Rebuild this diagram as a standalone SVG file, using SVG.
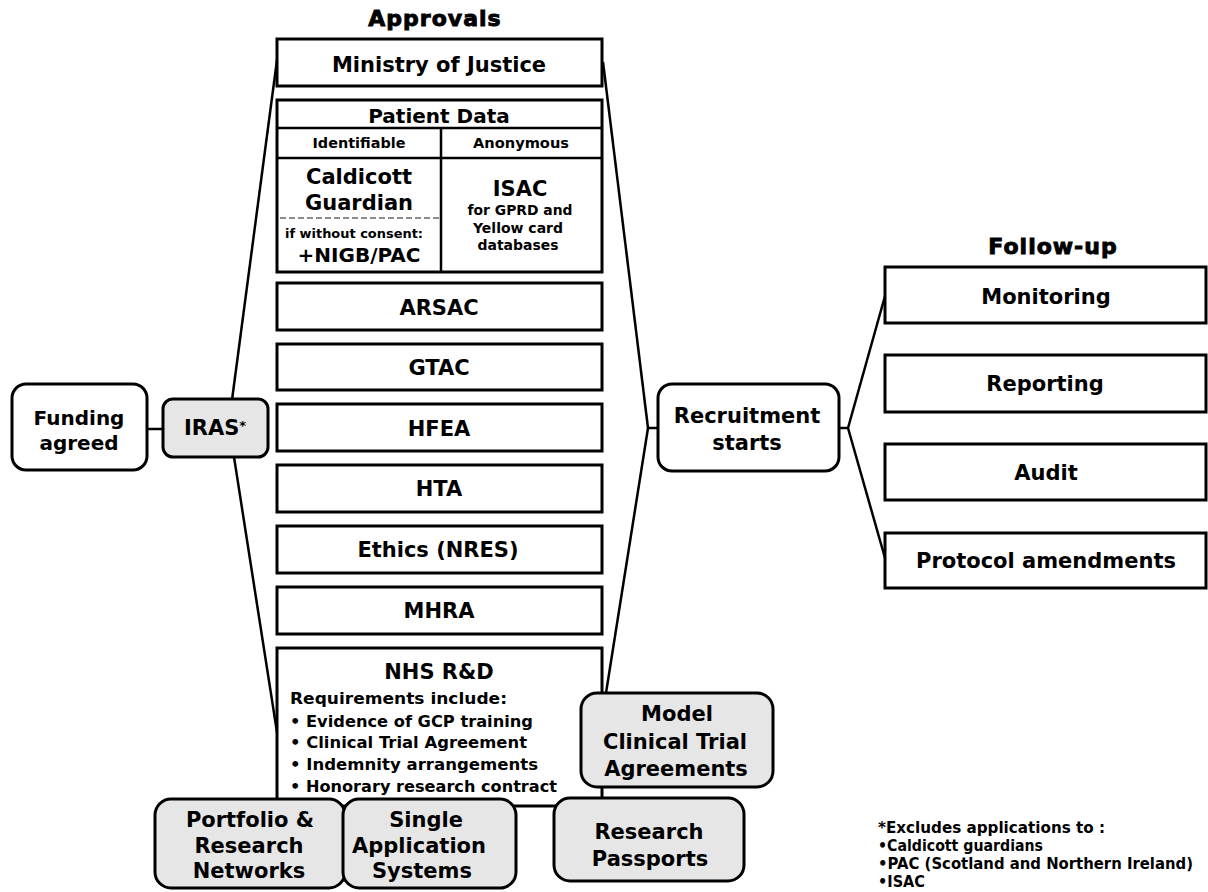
<svg xmlns="http://www.w3.org/2000/svg" width="1208" height="892" viewBox="0 0 1208 892">
<style>
  .box { fill: #ffffff; stroke: #000000; stroke-width: 3; }
  .gbox { fill: #e6e6e6; stroke: #000000; stroke-width: 3; }
  .rbox { fill: #ffffff; stroke: #000000; stroke-width: 3; }
  .ln { fill: none; stroke: #000000; stroke-width: 2.5; }
  .dash { fill: none; stroke: #8c8c8c; stroke-width: 2; stroke-dasharray: 6 3; }
  text { font-family: "DejaVu Sans", Verdana, sans-serif; font-weight: bold; fill: #000000; text-anchor: middle; }
  .t { font-size: 21px; }
  .m { font-size: 20px; }
  .s { font-size: 14px; }
  .xs { font-size: 13px; }
  .b { font-size: 16.5px; text-anchor: start; }
  .h { font-size: 22px; stroke: #000000; stroke-width: 0.9; letter-spacing: 1px; }
  .fn { font-size: 15px; text-anchor: start; }
</style>
<rect width="1208" height="892" fill="#ffffff"/>

<g id="connectors">
  <line class="ln" x1="147" y1="429" x2="163" y2="429"/>
  <line class="ln" x1="277" y1="60" x2="232" y2="400"/>
  <line class="ln" x1="234" y1="457" x2="279" y2="745"/>
  <line class="ln" x1="603" y1="62" x2="648" y2="428"/>
  <line class="ln" x1="648" y1="428" x2="606" y2="693"/>
  <line class="ln" x1="648" y1="428" x2="658" y2="428"/>
  <line class="ln" x1="839" y1="428" x2="848" y2="428"/>
  <line class="ln" x1="848" y1="428" x2="885" y2="296"/>
  <line class="ln" x1="848" y1="428" x2="885" y2="558"/>
</g>

<g id="title-approvals"><text class="h" x="435" y="26">Approvals</text></g>
<g id="title-followup"><text class="h" x="1053" y="254">Follow-up</text></g>

<g id="funding">
  <rect class="rbox" x="12" y="384" width="135" height="86" rx="14"/>
  <text class="m" x="79" y="425">Funding</text>
  <text class="m" x="79" y="450">agreed</text>
</g>

<g id="iras">
  <rect class="gbox" x="163" y="399" width="105" height="58" rx="10"/>
  <text class="t" x="215" y="435">IRAS<tspan font-size="13" dy="-5">*</tspan></text>
</g>

<g id="ministry">
  <rect class="box" x="277" y="39" width="325" height="47"/>
  <text class="t" x="439" y="72">Ministry of Justice</text>
</g>

<g id="patient-data">
  <rect class="box" x="277" y="100" width="325" height="172"/>
  <line class="ln" x1="277" y1="128" x2="602" y2="128" stroke-width="3"/>
  <line class="ln" x1="277" y1="158" x2="602" y2="158" stroke-width="3"/>
  <line class="ln" x1="441" y1="128" x2="441" y2="272" stroke-width="3"/>
  <line class="dash" x1="280" y1="218" x2="439" y2="218"/>
  <text class="m" x="439" y="123">Patient Data</text>
  <text class="s" x="359" y="148" textLength="93" lengthAdjust="spacingAndGlyphs">Identifiable</text>
  <text class="s" x="521" y="148" textLength="96" lengthAdjust="spacingAndGlyphs">Anonymous</text>
  <text class="t" x="359" y="184">Caldicott</text>
  <text class="t" x="359" y="210">Guardian</text>
  <text class="xs" x="354" y="238" textLength="138" lengthAdjust="spacingAndGlyphs">if without consent:</text>
  <text class="m" x="359" y="262">+NIGB/PAC</text>
  <text class="t" x="520" y="196" font-size="22">ISAC</text>
  <text class="s" x="520" y="215" textLength="105" lengthAdjust="spacingAndGlyphs">for GPRD and</text>
  <text class="s" x="518" y="233" textLength="90" lengthAdjust="spacingAndGlyphs">Yellow card</text>
  <text class="s" x="518" y="250" textLength="81" lengthAdjust="spacingAndGlyphs">databases</text>
</g>

<g id="arsac">
  <rect class="box" x="277" y="283" width="325" height="47"/>
  <text class="t" x="439" y="315">ARSAC</text>
</g>
<g id="gtac">
  <rect class="box" x="277" y="344" width="325" height="46"/>
  <text class="t" x="439" y="375">GTAC</text>
</g>
<g id="hfea">
  <rect class="box" x="277" y="404" width="325" height="47"/>
  <text class="t" x="439" y="436">HFEA</text>
</g>
<g id="hta">
  <rect class="box" x="277" y="465" width="325" height="47"/>
  <text class="t" x="439" y="496">HTA</text>
</g>
<g id="ethics">
  <rect class="box" x="277" y="526" width="325" height="47"/>
  <text class="t" x="438" y="557">Ethics (NRES)</text>
</g>
<g id="mhra">
  <rect class="box" x="277" y="587" width="325" height="47"/>
  <text class="t" x="439" y="618">MHRA</text>
</g>

<g id="nhs-rd">
  <rect class="box" x="277" y="648" width="325" height="158"/>
  <text class="t" x="439" y="679">NHS R&amp;D</text>
  <text class="b" x="290" y="704" textLength="217" lengthAdjust="spacingAndGlyphs">Requirements include:</text>
  <text class="b" x="290" y="727" textLength="243" lengthAdjust="spacingAndGlyphs">• Evidence of GCP training</text>
  <text class="b" x="290" y="748" textLength="237" lengthAdjust="spacingAndGlyphs">• Clinical Trial  Agreement</text>
  <text class="b" x="290" y="770" textLength="248" lengthAdjust="spacingAndGlyphs">• Indemnity arrangements</text>
  <text class="b" x="290" y="792" textLength="267" lengthAdjust="spacingAndGlyphs">• Honorary research contract</text>
</g>

<g id="model-cta">
  <rect class="gbox" x="581" y="693" width="192" height="94" rx="16"/>
  <text class="t" x="677" y="721">Model</text>
  <text class="t" x="675" y="749">Clinical Trial</text>
  <text class="t" x="676" y="776">Agreements</text>
</g>

<g id="portfolio">
  <rect class="gbox" x="155" y="799" width="190" height="89" rx="16"/>
  <text class="t" x="250" y="827">Portfolio &amp;</text>
  <text class="t" x="249" y="853">Research</text>
  <text class="t" x="249" y="878">Networks</text>
</g>

<g id="single-app">
  <rect class="gbox" x="343" y="799" width="173" height="89" rx="16"/>
  <text class="t" x="426" y="827">Single</text>
  <text class="t" x="419" y="853">Application</text>
  <text class="t" x="422" y="878">Systems</text>
</g>

<g id="research-passports">
  <rect class="gbox" x="554" y="798" width="190" height="83" rx="16"/>
  <text class="t" x="649" y="839">Research</text>
  <text class="t" x="650" y="866">Passports</text>
</g>

<g id="recruitment">
  <rect class="rbox" x="658" y="384" width="181" height="87" rx="14"/>
  <text class="t" x="747" y="423">Recruitment</text>
  <text class="t" x="747" y="450">starts</text>
</g>

<g id="monitoring">
  <rect class="box" x="885" y="267" width="321" height="56"/>
  <text class="t" x="1046" y="304">Monitoring</text>
</g>
<g id="reporting">
  <rect class="box" x="885" y="355" width="321" height="57"/>
  <text class="t" x="1045" y="391">Reporting</text>
</g>
<g id="audit">
  <rect class="box" x="885" y="444" width="321" height="56"/>
  <text class="t" x="1046" y="480">Audit</text>
</g>
<g id="protocol">
  <rect class="box" x="885" y="533" width="321" height="55"/>
  <text class="t" x="1046" y="568">Protocol amendments</text>
</g>

<g id="footnote">
  <text class="fn" x="878" y="833" textLength="227" lengthAdjust="spacingAndGlyphs">*Excludes applications to :</text>
  <text class="fn" x="878" y="851" textLength="165" lengthAdjust="spacingAndGlyphs">•Caldicott guardians</text>
  <text class="fn" x="878" y="869" textLength="315" lengthAdjust="spacingAndGlyphs">•PAC (Scotland and Northern Ireland)</text>
  <text class="fn" x="878" y="887" textLength="47" lengthAdjust="spacingAndGlyphs">•ISAC</text>
</g>
</svg>
